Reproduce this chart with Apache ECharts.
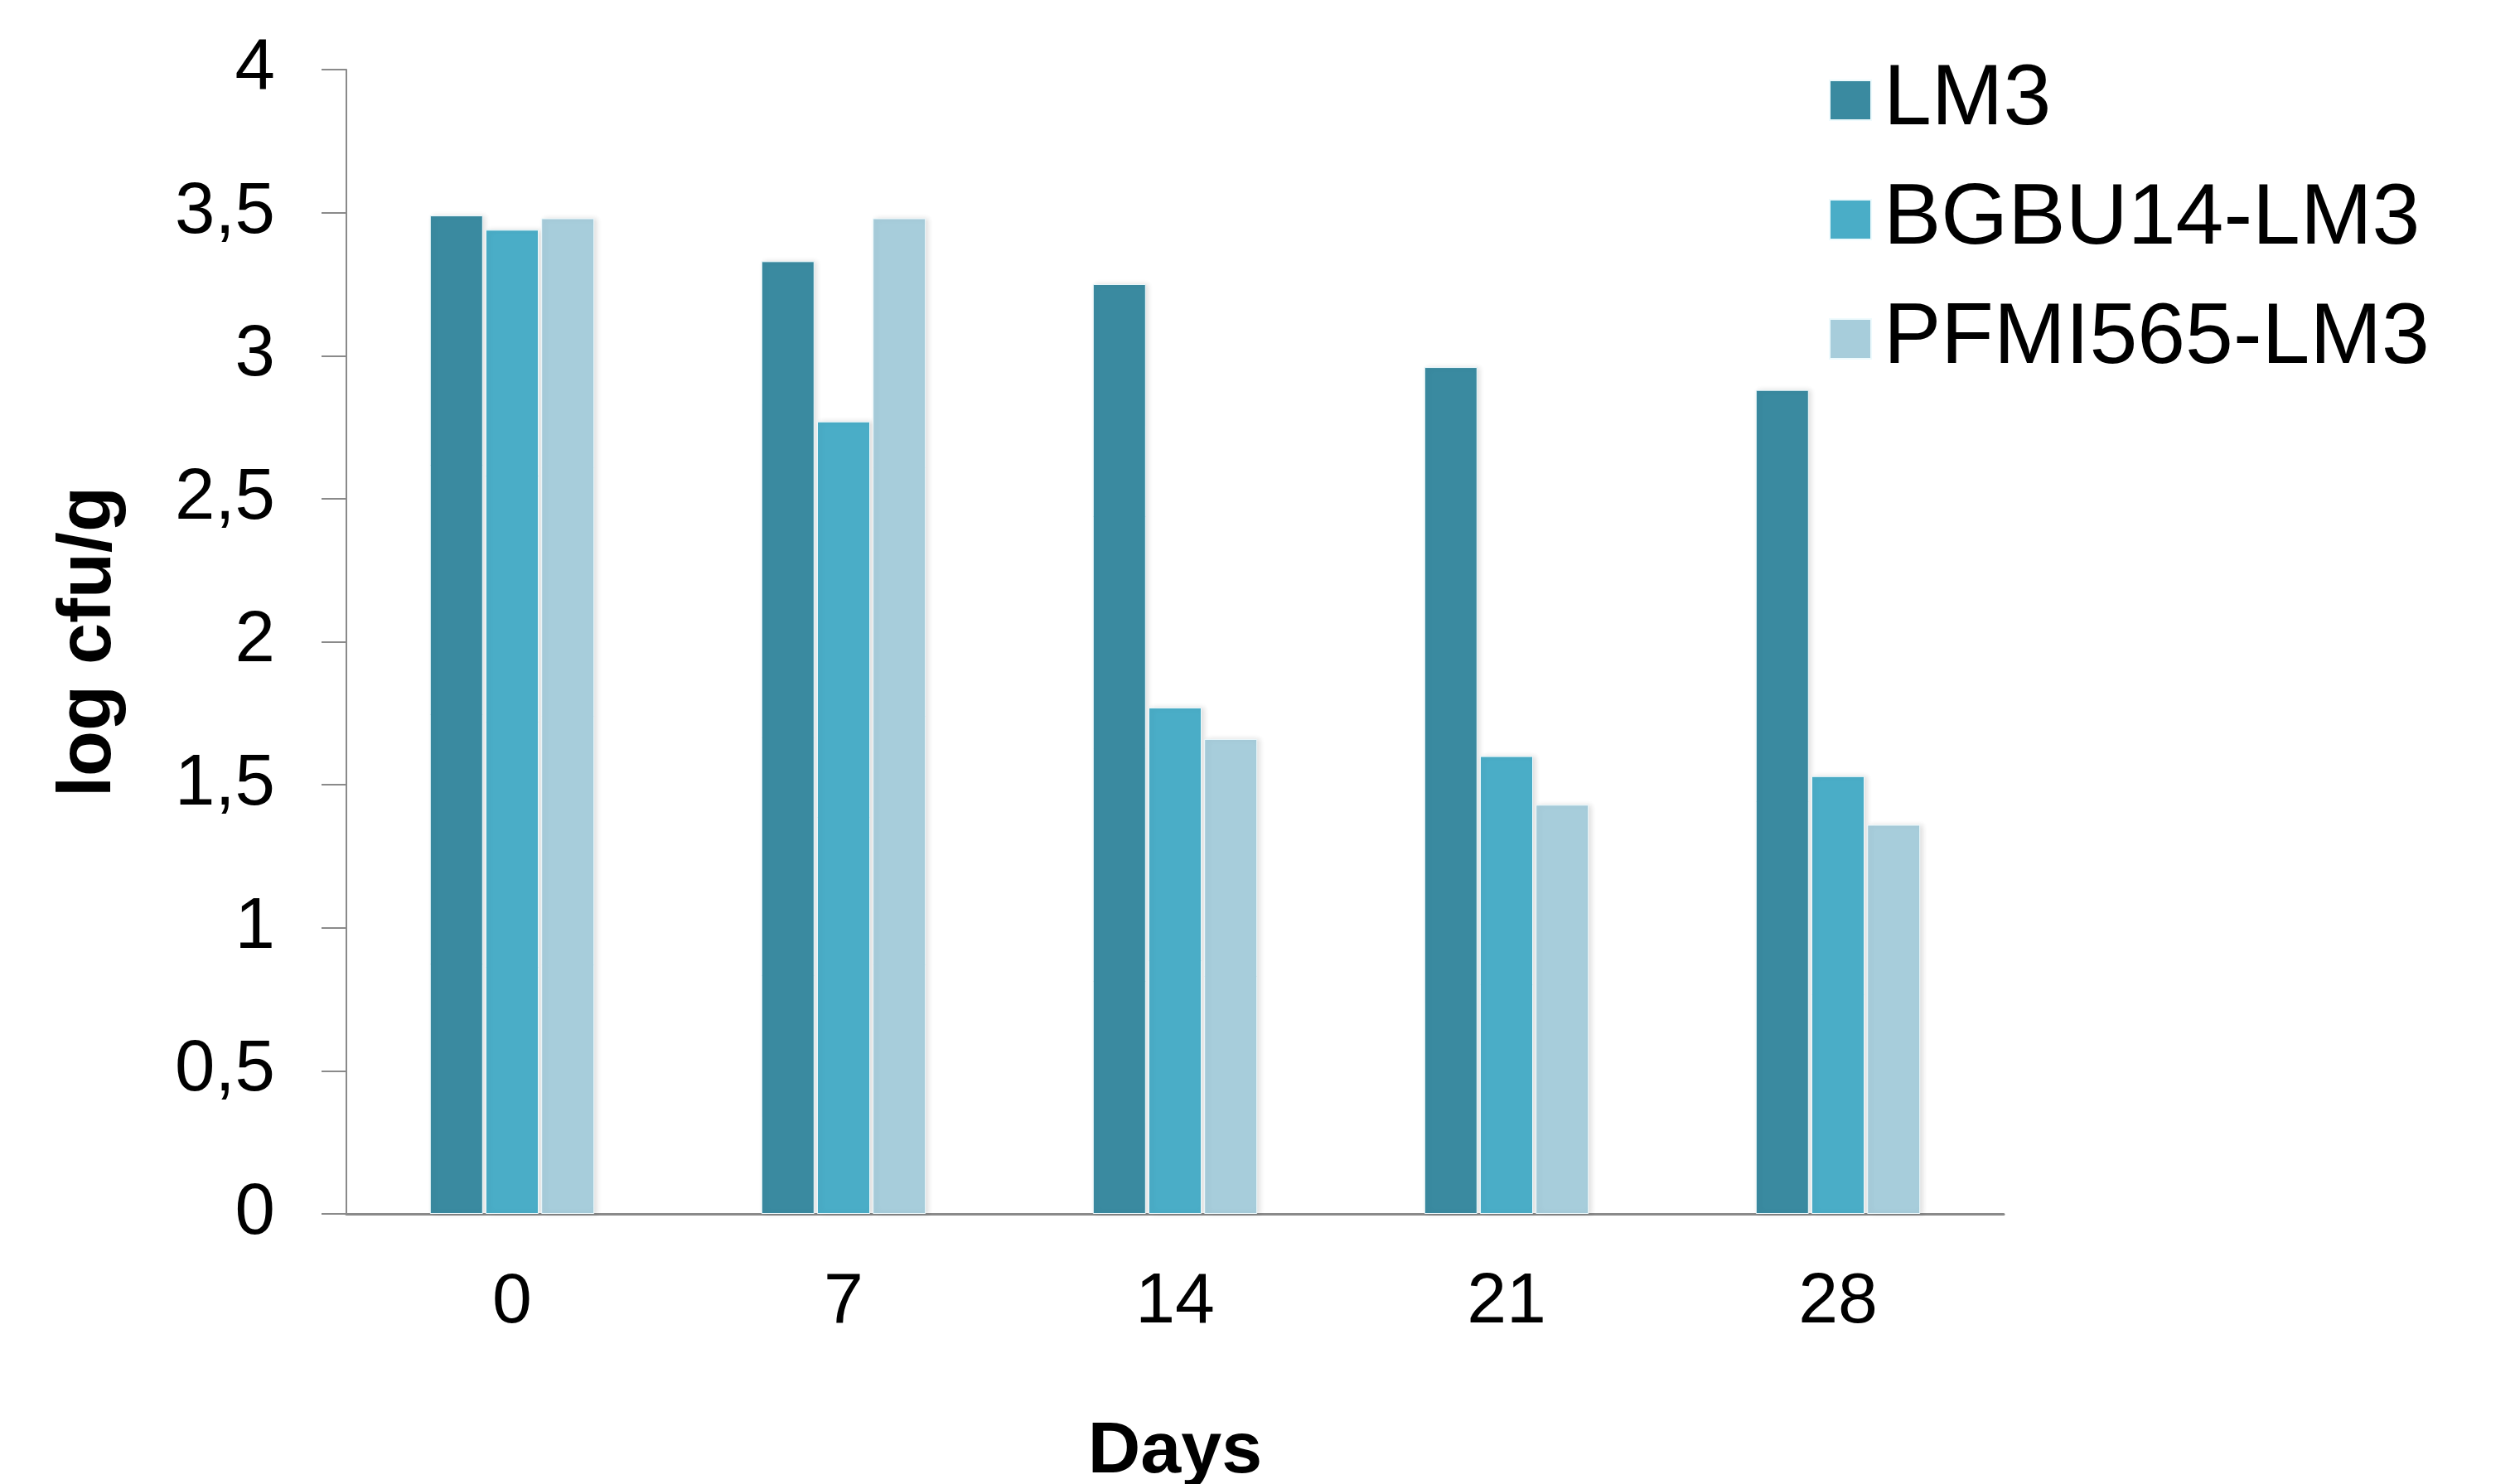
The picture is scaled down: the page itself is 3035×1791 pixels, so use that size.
<!DOCTYPE html>
<html>
<head>
<meta charset="utf-8">
<script src="https://cdn.jsdelivr.net/npm/echarts@6/dist/echarts.min.js"></script>
<style>
html,body{margin:0;padding:0;background:#fff;}
#chart{width:3035px;height:1791px;}
</style>
</head>
<body>
<div id="chart"></div>
<script>
const categories = ['0', '7', '14', '21', '28'];
const seriesNames = ['LM3', 'BGBU14-LM3', 'PFMI565-LM3'];
const lm3 = [3.49, 3.33, 3.25, 2.96, 2.88];
const bgbu14 = [3.44, 2.77, 1.77, 1.60, 1.53];
const pfmi565 = [3.48, 3.48, 1.66, 1.43, 1.36];
const yTicks = [0, 0.5, 1, 1.5, 2, 2.5, 3, 3.5, 4];
const xTitle = 'Days';
const yTitle = 'log cfu/g';

const colors = ['#3a8aa0', '#4aadc7', '#a7cddb'];
const font = 'Liberation Sans, Arial, sans-serif';

const chart = echarts.init(document.getElementById('chart'));
const values = [lm3, bgbu14, pfmi565];

chart.setOption({
  animation: false,
  backgroundColor: '#ffffff',
  textStyle: { fontFamily: font },
  grid: { left: 418, right: 617, top: 84, bottom: 326, containLabel: false, outerBoundsMode: 'none' },
  legend: {
    orient: 'vertical',
    left: 2202,
    top: 64,
    icon: 'rect',
    itemWidth: 50,
    itemHeight: 48,
    itemGap: 40,
    textStyle: { fontFamily: font, fontSize: 104, color: '#000', padding: [0, 0, 0, 10] },
    data: seriesNames
  },
  xAxis: {
    type: 'category',
    data: categories,
    boundaryGap: true,
    axisLine: { show: true, lineStyle: { color: '#8a8a8a', width: 3 } },
    axisTick: { show: false },
    axisLabel: { fontFamily: font, fontSize: 86, color: '#000', margin: 64 },
    name: xTitle,
    nameLocation: 'middle',
    nameGap: 244,
    nameTextStyle: { fontFamily: font, fontSize: 88, fontWeight: 'bold', color: '#000' }
  },
  yAxis: {
    type: 'value',
    min: yTicks[0],
    max: yTicks[yTicks.length - 1],
    interval: 0.5,
    axisLine: { show: true, lineStyle: { color: '#8a8a8a', width: 2 } },
    axisTick: { show: true, inside: false, length: 30, lineStyle: { color: '#8a8a8a', width: 2 } },
    splitLine: { show: false },
    axisLabel: {
      fontFamily: font, fontSize: 87, color: '#000', margin: 86,
      formatter: v => String(v).replace('.', ',')
    },
    name: yTitle,
    nameLocation: 'middle',
    nameGap: 265,
    nameRotate: 90,
    nameTextStyle: { fontFamily: font, fontSize: 90, fontWeight: 'bold', color: '#000' }
  },
  series: seriesNames.map((name, i) => ({
    name: name,
    type: 'bar',
    data: values[i],
    barWidth: 64,
    barGap: '5%',
    itemStyle: {
      color: colors[i],
      borderColor: '#eefafd',
      borderWidth: 1,
      shadowColor: 'rgba(0,0,0,0.12)',
      shadowBlur: 6,
      shadowOffsetX: 3
    }
  }))
});
</script>
</body>
</html>
